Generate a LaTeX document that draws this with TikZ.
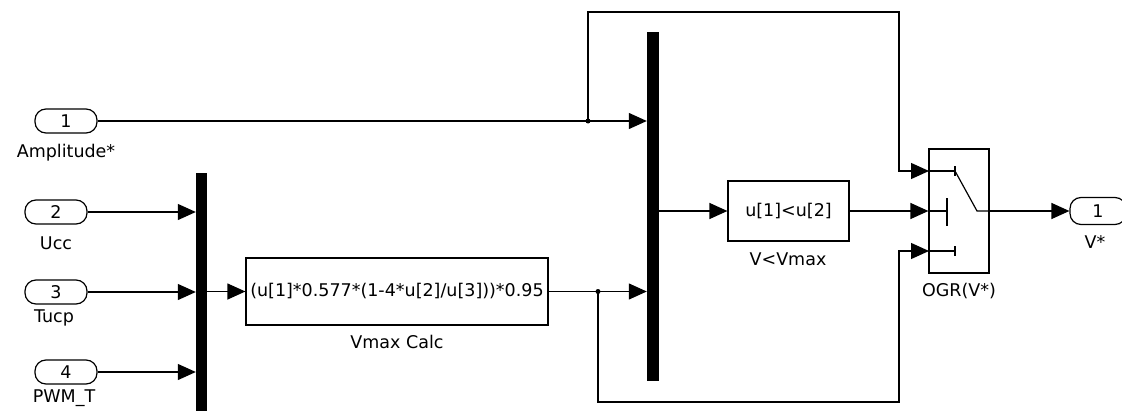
\documentclass[tikz,border=0pt]{standalone}
\usepackage{fontspec}
\setmainfont{DejaVu Sans}
\usetikzlibrary{arrows.meta,calc}
\begin{document}
\begin{tikzpicture}[x=1pt,y=-1pt,
  txt/.style={font=\fontsize{17.5}{21}\selectfont},
  wire/.style={line width=1.2pt},
  sig/.style={wire,-{Triangle[length=18pt,width=16pt]}},
  port/.style={draw,line width=1.2pt,rounded corners=11pt,minimum width=62pt,minimum height=24pt,inner sep=0pt,txt},
  blk/.style={draw,line width=1.2pt,inner sep=0pt,txt},
  mux/.style={fill=black,inner sep=0pt},
  lbl/.style={inner sep=0pt,anchor=base,txt},
  jdot/.style={circle,fill=black,inner sep=0pt,minimum size=5pt},
  tick/.style={line width=2.5pt}]
\useasboundingbox (0,0) rectangle (1122,412);
% inports
\node[port] (in1) at (66,121) {1};
\node[lbl] (l1) at (66,157) {Amplitude*};
\node[port] (in2) at (56,212) {2};
\node[lbl] (l2) at (56,249) {Ucc};
\node[port] (in3) at (56,292) {3};
\node[lbl] (l3) at (54,322) {Tucp};
\node[port] (in4) at (66,372) {4};
\node[lbl] (l4) at (64,402) {PWM\_T};
% muxes
\node[mux,minimum width=11pt,minimum height=238pt] (mux1) at (201.5,292) {};
\node[mux,minimum width=12pt,minimum height=349pt] (mux2) at (653,206.5) {};
% blocks
\node[blk,minimum width=302pt,minimum height=67pt] (fcn) at (397,291.5) {(u[1]*0.577*(1-4*u[2]/u[3]))*0.95};
\node[lbl] (lf) at (397,348) {Vmax Calc};
\node[blk,minimum width=121pt,minimum height=60pt] (rel) at (788.5,211) {u[1]<u[2]};
\node[lbl] (lr) at (788,265) {V<Vmax};
\node[blk,minimum width=60pt,minimum height=124pt] (sw) at (959,211) {};
\node[lbl] (ls) at (959,296) {OGR(V*)};
\node[port,minimum width=56pt,minimum height=27pt] (out) at (1098,211) {1};
\node[lbl] (lo) at (1095,248) {V*};
% coordinates
\coordinate (j1) at (588,121);
\coordinate (j2) at (598,291.5);
\coordinate (s1) at (929,171);
\coordinate (s3) at (929,251);
% wires
\draw[sig] (in1.east) -- (in1.east -| mux2.west);
\draw[sig] (j1) -- (588,12) -- (899,12) -- (899,171) -- (s1);
\draw[sig] (in2.east) -- (in2.east -| mux1.west);
\draw[sig] (in3.east) -- (in3.east -| mux1.west);
\draw[sig] (in4.east) -- (in4.east -| mux1.west);
\draw[sig] (mux1.east |- fcn.west) -- (fcn.west);
\draw[sig] (fcn.east) -- (fcn.east -| mux2.west);
\draw[sig] (j2) -- (598,402) -- (899,402) -- (899,251) -- (s3);
\draw[sig] (mux2.east |- rel.west) -- (rel.west);
\draw[sig] (rel.east) -- (sw.west);
\draw[sig] (sw.east) -- (out.west);
\node[jdot] at (j1) {};
\node[jdot] at (j2) {};
% switch icon
\draw[wire] (s1) -- (955,171);
\draw[tick] (955,166) -- (955,176);
\draw[wire] (s3) -- (955,251);
\draw[tick] (955,246) -- (955,256);
\draw[wire] (sw.west) -- (947,211);
\draw[wire] (947,198) -- (947,226);
\draw[wire] (955,171) -- (977,211) -- (sw.east);
\end{tikzpicture}
\end{document}
